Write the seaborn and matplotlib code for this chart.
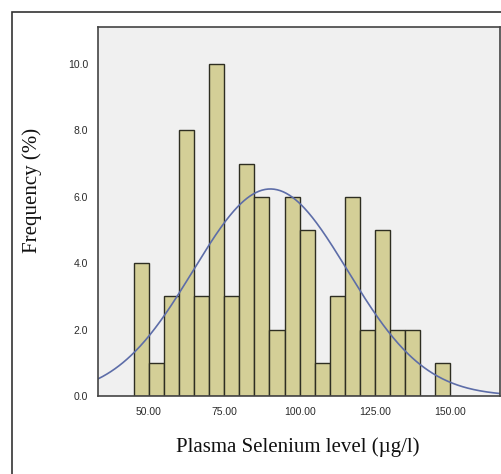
import numpy as np
import pandas as pd
import matplotlib
matplotlib.use("Agg")
import matplotlib.pyplot as plt
import seaborn as sns
from matplotlib.patches import Rectangle

# histogram values (bins of width 5 starting at 45)
bin_mids = [47.5, 52.5, 57.5, 62.5, 67.5, 72.5, 77.5, 82.5, 87.5, 92.5, 97.5,
            102.5, 107.5, 112.5, 117.5, 122.5, 127.5, 132.5, 137.5, 142.5, 147.5]
freq = [4, 1, 3, 8, 3, 10, 3, 7, 6, 2, 6, 5, 1, 3, 6, 2, 5, 2, 2, 0, 1]
bin_edges = [45, 50, 55, 60, 65, 70, 75, 80, 85, 90, 95, 100, 105, 110, 115,
             120, 125, 130, 135, 140, 145, 150]
x_ticks = [50, 75, 100, 125, 150]
x_ticklabels = ["50.00", "75.00", "100.00", "125.00", "150.00"]
y_ticks = [0, 2, 4, 6, 8, 10]
y_ticklabels = ["0.0", "2.0", "4.0", "6.0", "8.0", "10.0"]

# fitted normal curve
curve_mean = 90.3
curve_sd = 25.6

df = pd.DataFrame({"level": bin_mids, "freq": freq})

sns.set_style("white")
fig = plt.figure(figsize=(5.02, 4.74), dpi=100)
fig.patch.set_facecolor("white")
ax = fig.add_axes([0.1946, 0.1646, 0.8014, 0.7791])
ax.set_facecolor("#f0f0f0")

sns.histplot(data=df, x="level", weights="freq", bins=bin_edges, ax=ax,
             color="#d4cf97", alpha=1, edgecolor="#2e2e22", linewidth=1)

xs = np.linspace(33, 166.5, 400)
bw = bin_edges[1] - bin_edges[0]
ys = sum(freq) * bw * np.exp(-0.5 * ((xs - curve_mean) / curve_sd) ** 2) / (curve_sd * np.sqrt(2 * np.pi))
sns.lineplot(x=xs, y=ys, ax=ax, color="#5d6da8", linewidth=1.2)

ax.set_xlim(33, 166.5)
ax.set_ylim(0, 11.12)
ax.set_xticks(x_ticks)
ax.set_xticklabels(x_ticklabels)
ax.set_yticks(y_ticks)
ax.set_yticklabels(y_ticklabels)
ax.tick_params(axis="both", length=5, width=1, color="#333333", labelcolor="#2a2a2a",
               labelsize=7.5, direction="out", pad=2)
ax.tick_params(axis="x", pad=3)
for lab in ax.get_xticklabels() + ax.get_yticklabels():
    lab.set_family("Liberation Sans")
for s in ax.spines.values():
    s.set_color("#444444")
    s.set_linewidth(1.2)
ax.set_xlabel("")
ax.set_ylabel("")

fig.text(0.5926, 1 - 447 / 474, "Plasma Selenium level (\u00b5g/l)", ha="center", va="center",
         fontsize=15, family="Liberation Serif", color="#111111")
fig.text(32 / 502, 1 - 190 / 474, "Frequency (%)", ha="center", va="center", rotation=90,
         fontsize=15, family="Liberation Serif", color="#111111")

# outer frame around the figure panel
fig.patches.append(Rectangle((0.0233, -0.05), 1.1, 0.9747 + 0.05, transform=fig.transFigure,
                             fill=False, edgecolor="#333333", linewidth=1.2))

fig.savefig("out.png", dpi=100)
